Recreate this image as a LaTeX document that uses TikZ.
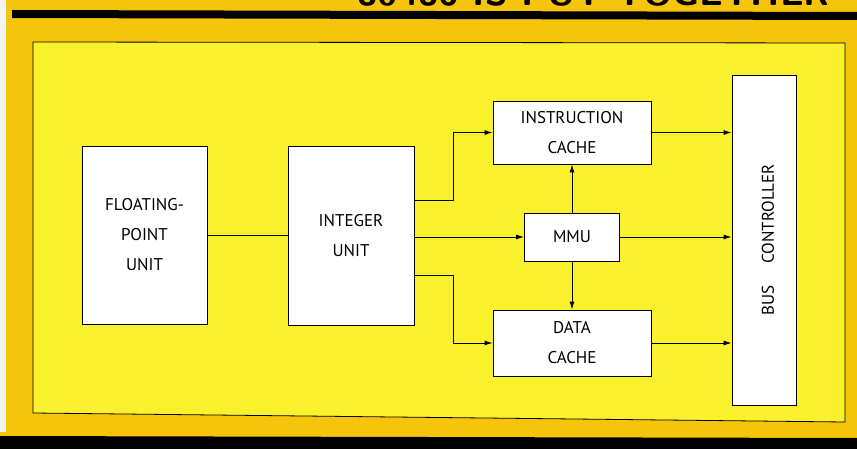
\documentclass[tikz,border=0pt]{standalone}
\usepackage{fontspec}
\setmainfont{PT Sans}
\usetikzlibrary{arrows.meta,calc}
\definecolor{gold}{HTML}{F6C40A}
\definecolor{lemon}{HTML}{F8F12C}
\tikzset{
  unitbox/.style={draw=black,line width=0.9pt,fill=white,inner sep=0pt,align=center,
    font=\fontsize{17}{30}\selectfont},
  arr/.style={line width=0.9pt,-{Latex[length=8pt,width=5pt]}},
  plain/.style={line width=0.9pt}
}
\begin{document}
\begin{tikzpicture}[x=1pt,y=-1pt]
\useasboundingbox (0,0) rectangle (857,449);
\clip (0,0) rectangle (857,449);
% background
\fill[gold] (0,0) rectangle (857,449);
\fill[white!92!gray] (0,0) rectangle (6,432);
\fill[black] (12,10) -- (857,12) -- (857,20) -- (12,18) -- cycle;
\fill[black] (0,436) -- (857,438) -- (857,449) -- (0,449) -- cycle;
% clipped title
\node[anchor=base east,inner sep=0pt,font=\fontsize{37}{37}\bfseries\sffamily] (title) at (830,6) {80486 IS PUT TOGETHER};
% inner panel
\draw[fill=lemon,line width=0.8pt] (33,42) -- (845,43) -- (845,422) -- (33,413) -- cycle;
% blocks
\node[unitbox,minimum width=125pt,minimum height=178pt] (fpu) at (144.5,235) {FLOATING-\\POINT\\UNIT};
\node[unitbox,minimum width=126pt,minimum height=179pt] (iu) at (351,235.5) {INTEGER\\UNIT};
\node[unitbox,minimum width=158pt,minimum height=63pt] (ic) at (572,132.5) {INSTRUCTION\\CACHE};
\node[unitbox,minimum width=95pt,minimum height=48pt] (mmu) at (572,237) {MMU};
\node[unitbox,minimum width=158pt,minimum height=66pt] (dc) at (572,343) {DATA\\CACHE};
\node[unitbox,minimum width=64pt,minimum height=330pt] (bc) at (764,240) {};
\node[rotate=90,font=\fontsize{17}{19}\selectfont,inner sep=0pt] (bclabel) at (768,240) {BUS\hspace{22pt}CONTROLLER};
% connectors
\draw[plain] (fpu.east |- 0,235) -- (iu.west |- 0,235);
\draw[arr] (iu.east |- 0,200) -- (453,200) |- (ic.west);
\draw[arr] (iu.east |- mmu.west) -- (mmu.west);
\draw[arr] (iu.east |- 0,275) -- (453,275) |- (dc.west);
\draw[arr] (mmu.north) -- (ic.south);
\draw[arr] (mmu.south) -- (dc.north);
\draw[arr] (ic.east) -- (ic.east -| bc.west);
\draw[arr] (mmu.east) -- (mmu.east -| bc.west);
\draw[arr] (dc.east) -- (dc.east -| bc.west);
\end{tikzpicture}
\end{document}
